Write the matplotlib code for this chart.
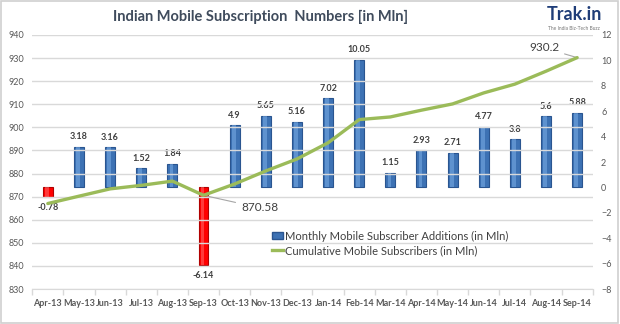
import matplotlib
matplotlib.use("Agg")
import matplotlib.pyplot as plt
from matplotlib.patches import Rectangle
from matplotlib.lines import Line2D

plt.rcParams['font.family'] = ['Lato', 'DejaVu Sans']

months = ["Apr-13", "May-13", "Jun-13", "Jul-13", "Aug-13", "Sep-13",
          "Oct-13", "Nov-13", "Dec-13", "Jan-14", "Feb-14", "Mar-14",
          "Apr-14", "May-14", "Jun-14", "Jul-14", "Aug-14", "Sep-14"]
additions = [-0.78, 3.18, 3.16, 1.52, 1.84, -6.14,
             4.9, 5.65, 5.16, 7.02, 10.05, 1.15,
             2.93, 2.71, 4.77, 3.8, 5.6, 5.88]
cumulative = [867.02, 870.2, 873.36, 874.88, 876.72, 870.58,
              875.48, 881.13, 886.29, 893.31, 903.36, 904.51,
              907.44, 910.15, 914.92, 918.72, 924.32, 930.2]
left_ticks = list(range(830, 941, 10))
right_ticks = list(range(-8, 13, 2))

TEXT = "#404040"
AXIS_GRAY = "#595959"
GRID = "#d9d9d9"
BLUE = "#3d72b4"
BLUE_EDGE = "#2a5590"
BLUE_LIGHT = "#7aaee6"
RED = "#ff0000"
RED_EDGE = "#b00000"
GREEN = "#9bbb59"

fig = plt.figure(figsize=(6.2, 3.24), dpi=100)
fig.patch.set_facecolor("white")
fig.patches.append(Rectangle((0.002, 0.003), 0.995, 0.994, transform=fig.transFigure,
                             fill=False, edgecolor="#d0d0d0", linewidth=1.2))

ax = fig.add_axes([0.052, 0.108, 0.904, 0.784])
ax2 = ax.twinx()

x = list(range(len(months)))

# left axis: cumulative subscribers
ax.set_ylim(830, 940)
ax.set_yticks(left_ticks)
ax.set_xlim(-0.5, len(months) - 0.5)
ax.grid(axis="y", color=GRID, linewidth=1.0)
ax.set_axisbelow(True)
for s in ["top", "right", "left"]:
    ax.spines[s].set_visible(False)
ax.spines["bottom"].set_color(GRID)
ax.tick_params(axis="y", length=0, labelsize=6.5, labelcolor=AXIS_GRAY, pad=6)
ax.set_xticks(x)
ax.set_xticklabels(months, fontsize=6.5, fontweight="bold", color=AXIS_GRAY)
ax.tick_params(axis="x", length=0, pad=7)
ax.set_xticks([i + 0.5 for i in range(-1, len(months))], minor=True)
ax.tick_params(axis="x", which="minor", length=4, color=GRID, width=1)

# right axis: monthly additions
ax2.set_ylim(-8, 12)
ax2.set_yticks(right_ticks)
for s in ["top", "right", "left", "bottom"]:
    ax2.spines[s].set_visible(False)
ax2.tick_params(axis="y", length=0, labelsize=6.5, labelcolor=AXIS_GRAY, pad=6)

w = 0.32
for xi, v in zip(x, additions):
    face = BLUE if v >= 0 else RED
    edge = BLUE_EDGE if v >= 0 else RED_EDGE
    light = BLUE_LIGHT if v >= 0 else "#ff6b6b"
    ax2.bar(xi, v, width=w, color=face, edgecolor=edge, linewidth=0.8, zorder=2)
    ax2.bar(xi - 0.03, v, width=0.12, color=light, alpha=0.55, linewidth=0, zorder=3)
    if v >= 0:
        ax2.annotate(f"{v:g}", (xi, v), xytext=(0, 4), textcoords="offset points",
                     ha="center", va="bottom", fontsize=6.5, fontweight="bold", color=TEXT)
    else:
        ax2.annotate(f"{v:g}", (xi, v), xytext=(0, -4), textcoords="offset points",
                     ha="center", va="top", fontsize=6.5, fontweight="bold", color=TEXT)

# cumulative line drawn above the bars
ax.set_zorder(ax2.get_zorder() + 1)
ax.patch.set_visible(False)
ax.plot(x, cumulative, color=GREEN, linewidth=2.4, solid_capstyle="round", zorder=5)

ax.annotate(f"{cumulative[5]:g}", (x[5], cumulative[5]), xytext=(27, -9),
            textcoords="offset points", ha="left", va="center",
            fontsize=8.5, color=TEXT,
            arrowprops=dict(arrowstyle="-", color="#a6a6a6", lw=0.8,
                            shrinkA=2, shrinkB=0))
ax.annotate(f"{cumulative[-1]:g}", (x[-1], cumulative[-1]), xytext=(-13, 7),
            textcoords="offset points", ha="right", va="center",
            fontsize=8.5, color=TEXT,
            arrowprops=dict(arrowstyle="-", color="#a6a6a6", lw=0.8,
                            shrinkA=2, shrinkB=0))

handles = [Rectangle((0, 0), 1, 1, facecolor=BLUE, edgecolor=BLUE_EDGE),
           Line2D([0], [0], color=GREEN, linewidth=2.4)]
labels = ["Monthly Mobile Subscriber Additions (in Mln)",
          "Cumulative Mobile Subscribers (in Mln)"]
fig.legend(handles, labels, loc="upper left", bbox_to_anchor=(0.43, 0.305),
           frameon=False, fontsize=8, labelcolor=TEXT, handlelength=1.0,
           handleheight=0.6, handletextpad=0.2, labelspacing=0.3,
           borderpad=0)

fig.text(0.42, 0.947, "Indian Mobile Subscription  Numbers [in Mln]",
         ha="center", va="center", fontsize=10.5, fontweight="bold", color="#3f4b5c")
fig.text(0.926, 0.955, "Trak.in", ha="center", va="center", fontsize=13,
         fontweight="bold", color="#1f3d78")
fig.text(0.926, 0.913, "The India Biz-Tech Buzz", ha="center", va="center",
         fontsize=3.5, color="#777777")

fig.savefig("out.png", dpi=100)
